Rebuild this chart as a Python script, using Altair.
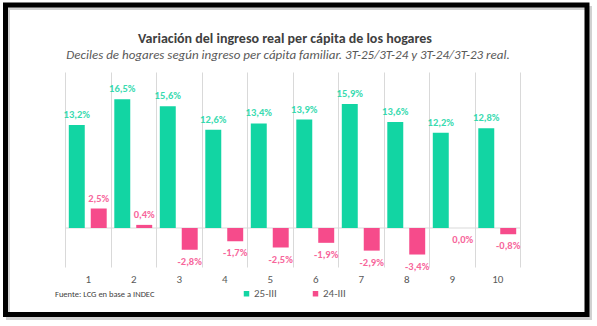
import altair as alt
import pandas as pd

deciles = ["1", "2", "3", "4", "5", "6", "7", "8", "9", "10"]
v_25 = [13.2, 16.5, 15.6, 12.6, 13.4, 13.9, 15.9, 13.6, 12.2, 12.8]
v_24 = [2.5, 0.4, -2.8, -1.7, -2.5, -1.9, -2.9, -3.4, 0.0, -0.8]
series = ["25-III", "24-III"]
colors = ["#12d5a3", "#f64b8b"]

titulo = "Variación del ingreso real per cápita de los hogares"
subtitulo = "Deciles de hogares según ingreso per cápita familiar. 3T-25/3T-24 y 3T-24/3T-23 real."
fuente = "Fuente: LCG en base a INDEC"

FONT = "Carlito, Lato, 'Open Sans', sans-serif"


def fmt(v):
    return f"{v:.1f}%".replace(".", ",")


rows = []
for d, a, b in zip(deciles, v_25, v_24):
    rows.append({"decil": d, "serie": series[0], "valor": a, "etiqueta": fmt(a)})
    rows.append({"decil": d, "serie": series[1], "valor": b, "etiqueta": fmt(b)})
df = pd.DataFrame(rows)

x_enc = alt.X(
    "decil:N",
    sort=deciles,
    scale=alt.Scale(paddingInner=0, paddingOuter=0),
    axis=alt.Axis(
        title=None, labelAngle=0, domain=False, ticks=False, tickBand="extent",
        grid=True, gridColor="#d9d9d9", gridWidth=1,
        labelColor="#595959", labelFontSize=11, labelPadding=6, labelFont=FONT,
    ),
)
xoff = alt.XOffset("serie:N", sort=series, scale=alt.Scale(paddingInner=0.273, paddingOuter=0.173))
y_scale = alt.Scale(domain=[-5, 20], nice=False, zero=True)
y_enc = alt.Y("valor:Q", scale=y_scale, axis=None)
color_scale = alt.Scale(domain=series, range=colors)
color_enc = alt.Color(
    "serie:N", sort=series, scale=color_scale,
    legend=alt.Legend(
        title=None, orient="none", legendX=176, legendY=216, direction="horizontal",
        symbolType="square", symbolSize=30, symbolStrokeWidth=0,
        labelFontSize=11, labelColor="#595959", labelFont=FONT,
        columnPadding=33, labelOffset=2,
    ),
)

base = alt.Chart(df)
bars = base.mark_bar().encode(x=x_enc, xOffset=xoff, y=y_enc, color=color_enc)

lab_pos = base.transform_filter("datum.valor > 0").mark_text(
    baseline="bottom", dy=-5, fontSize=10.5, fontWeight="bold", font=FONT, opacity=0.85
).encode(x=x_enc, xOffset=xoff, y=y_enc, text="etiqueta:N",
         color=alt.Color("serie:N", sort=series, scale=color_scale, legend=None))

lab_neg = base.transform_filter("datum.valor <= 0").mark_text(
    baseline="top", dy=7, fontSize=10.5, fontWeight="bold", font=FONT, opacity=0.85
).encode(x=x_enc, xOffset=xoff, y=y_enc, text="etiqueta:N",
         color=alt.Color("serie:N", sort=series, scale=color_scale, legend=None))

zero = alt.Chart(pd.DataFrame({"valor": [0]})).mark_rule(color="#d9d9d9", strokeWidth=1).encode(
    y=alt.Y("valor:Q", scale=y_scale, axis=None)
)

one = pd.DataFrame({"k": [0]})
shadow = alt.Chart(one).mark_rect(fill="transparent", stroke="#9a9a9a", strokeWidth=4, opacity=0.45).encode(
    x=alt.value(-57), x2=alt.value(525), y=alt.value(-64), y2=alt.value(246)
)
frame = alt.Chart(one).mark_rect(fill="transparent", stroke="black", strokeWidth=5).encode(
    x=alt.value(-59.5), x2=alt.value(522), y=alt.value(-67), y2=alt.value(242.5)
)
src = alt.Chart(one).mark_text(align="left", baseline="middle", fontSize=8.5, color="#404040", font=FONT).encode(
    x=alt.value(-10), y=alt.value(222), text=alt.value(fuente)
)
tit = alt.Chart(one).mark_text(align="center", baseline="alphabetic", fontSize=14, fontWeight="bold",
                               color="#404040", font=FONT).encode(
    x=alt.value(220), y=alt.value(-29), text=alt.value(titulo)
)
sub = alt.Chart(one).mark_text(align="center", baseline="alphabetic", fontSize=13, fontStyle="italic",
                               color="#595959", font=FONT).encode(
    x=alt.value(223), y=alt.value(-13), text=alt.value(subtitulo)
)

chart = alt.layer(zero, bars, lab_pos, lab_neg, src, tit, sub, shadow, frame).properties(
    width=455, height=195,
    autosize=alt.AutoSizeParams(type="none"),
    padding={"left": 65, "top": 72, "right": 77, "bottom": 59},
    background="white",
).configure_view(strokeWidth=0)

chart.save("out.html", embed_options={"renderer": "svg", "actions": False})
